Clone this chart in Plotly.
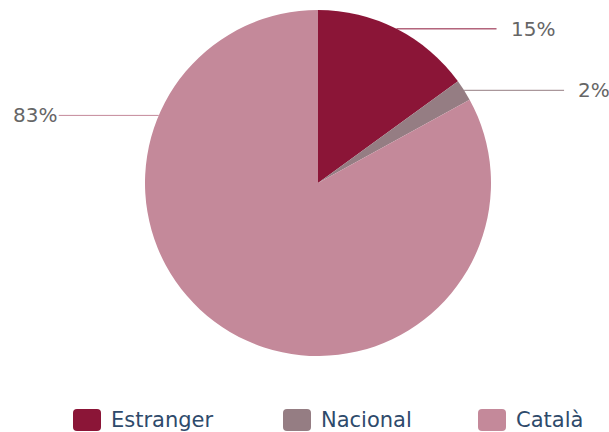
import math
import plotly.graph_objects as go

categories = ["Estranger", "Nacional", "Català"]
values = [15, 2, 83]
colors = ["#8B1537", "#957D83", "#C4899A"]

W, H = 609, 432
cx, cy, r = 318, 183, 173  # pie centre / radius in pixels

fig = go.Figure(go.Pie(
    labels=categories, values=values, sort=False, direction="clockwise",
    rotation=0, marker=dict(colors=colors, line=dict(width=0)),
    textinfo="none", hoverinfo="label+percent", showlegend=False,
    domain=dict(x=[(cx - r) / W, (cx + r) / W],
                y=[1 - (cy + r) / H, 1 - (cy - r) / H]),
))

def px(x):
    return x / W

def py(y):
    return 1 - y / H

total = sum(values)
shapes, annotations = [], []
cum = 0
for i, v in enumerate(values):
    mid = (cum + v / 2) / total * 360
    cum += v
    ang = mid
    if 180 < mid < 360 and v / total > 0.5:
        ang = 293  # large slice: label lifted to upper left as in reference
    ax = cx + r * math.sin(math.radians(ang))
    ay = cy - r * math.cos(math.radians(ang))
    right = math.sin(math.radians(ang)) >= 0
    ex = ax + 100 if right else ax - 100
    shapes.append(dict(type="line", xref="paper", yref="paper",
                       x0=px(ax), y0=py(ay), x1=px(ex), y1=py(ay),
                       line=dict(color=colors[i], width=1)))
    pct = round(v / total * 100)
    annotations.append(dict(xref="paper", yref="paper", x=px(ex + (12 if right else 0)), y=py(ay),
                            text=f"{pct}%", showarrow=False,
                            xanchor="left" if right else "right", yanchor="middle",
                            font=dict(family="DejaVu Sans", size=20, color="#666666")))

# legend
legend_x = [73, 283, 478]
ly = 420
for i, name in enumerate(categories):
    x0, x1, y0, y1 = legend_x[i], legend_x[i] + 28, ly - 11, ly + 11
    rr = 4
    path = (f"M{px(x0+rr)},{py(y0)} L{px(x1-rr)},{py(y0)} Q{px(x1)},{py(y0)} {px(x1)},{py(y0+rr)} "
            f"L{px(x1)},{py(y1-rr)} Q{px(x1)},{py(y1)} {px(x1-rr)},{py(y1)} "
            f"L{px(x0+rr)},{py(y1)} Q{px(x0)},{py(y1)} {px(x0)},{py(y1-rr)} "
            f"L{px(x0)},{py(y0+rr)} Q{px(x0)},{py(y0)} {px(x0+rr)},{py(y0)} Z")
    shapes.append(dict(type="path", xref="paper", yref="paper", path=path,
                       fillcolor=colors[i], line=dict(width=0)))
    annotations.append(dict(xref="paper", yref="paper", x=px(x1 + 8), y=py(ly),
                            text=name, showarrow=False, xanchor="left", yanchor="middle",
                            font=dict(family="DejaVu Sans", size=21, color="#2E4A6B")))

fig.update_layout(
    width=W, height=H, margin=dict(l=0, r=0, t=0, b=0),
    paper_bgcolor="white", plot_bgcolor="white",
    shapes=shapes, annotations=annotations,
)
fig.write_html("out.html", config={"displayModeBar": False},
               post_script="document.body.style.margin='0';")
